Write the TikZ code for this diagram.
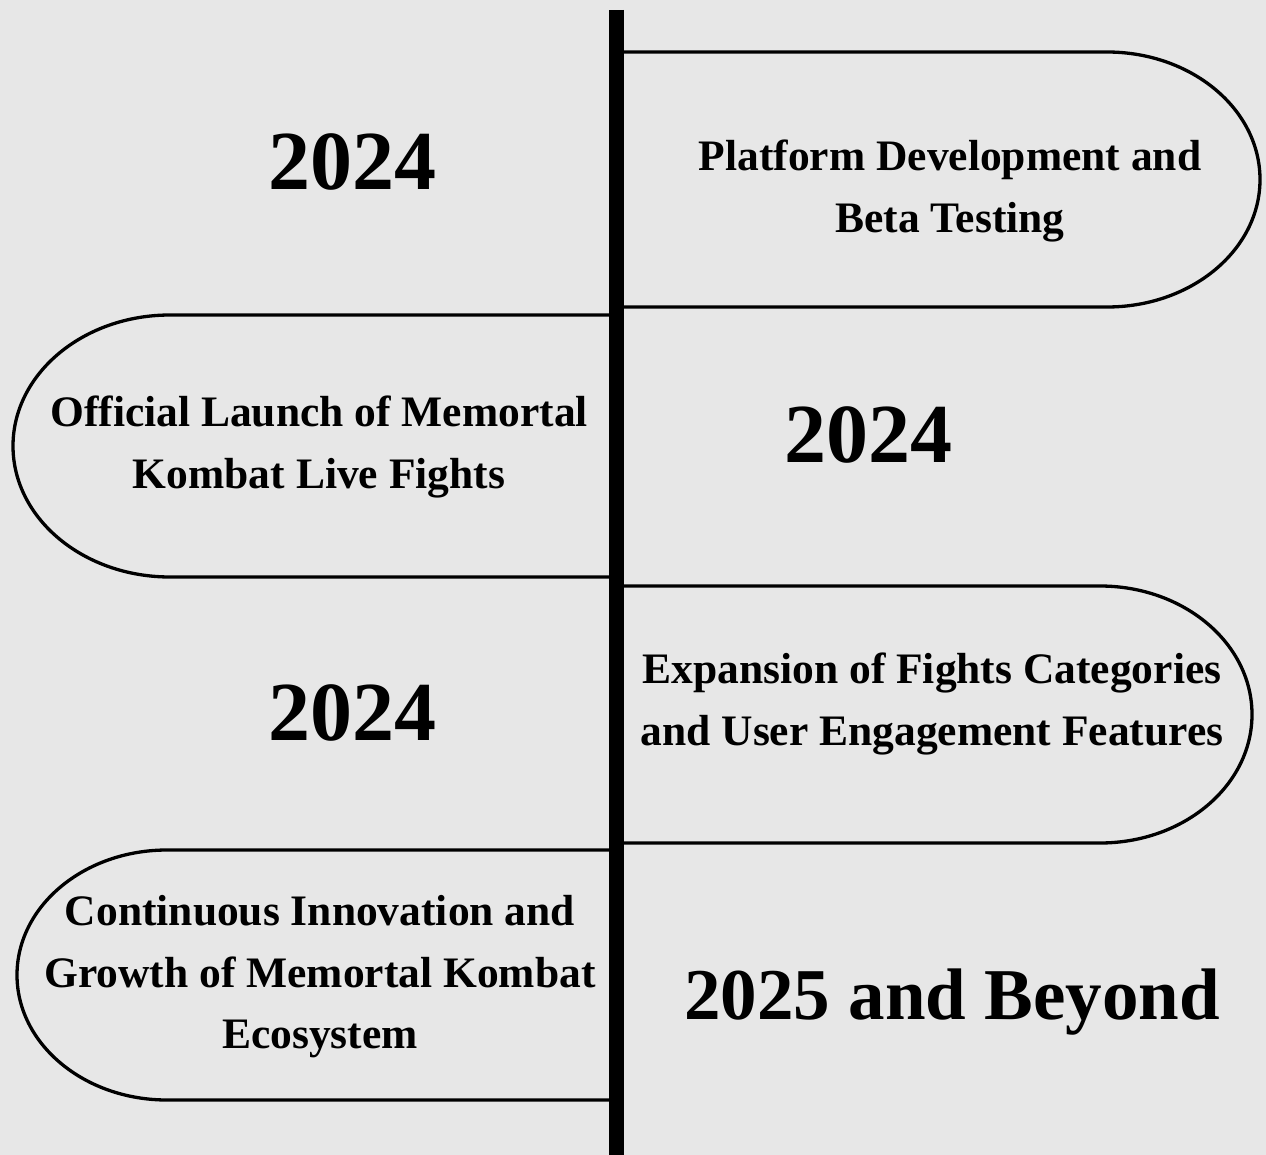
\documentclass[tikz,border=0pt]{standalone}
\usepackage{fontspec}
\setmainfont{Liberation Serif}
\definecolor{bgc}{RGB}{231,231,231}
\begin{document}
\begin{tikzpicture}[x=1pt,y=-1pt,
  tab/.style={draw=black,line width=3.3pt},
  axisline/.style={draw=black,line width=15pt},
  yeartext/.style={font=\fontsize{84}{90}\selectfont\bfseries,inner sep=0pt},
  beyondtext/.style={font=\fontsize{73}{80}\selectfont\bfseries,inner sep=0pt},
  boxtext/.style={font=\fontsize{43.5}{61.5}\selectfont\bfseries,align=center,inner sep=0pt}]
\fill[bgc] (0,0) rectangle (1266,1155);
\useasboundingbox (0,0) rectangle (1266,1155);
% tabs
\draw[tab] (616,52) -- (1107,52) arc[start angle=270,end angle=450,x radius=153,y radius=127.5] -- (616,307);
\draw[tab] (616,315) -- (170,315) arc[start angle=270,end angle=90,x radius=157,y radius=131] -- (616,577);
\draw[tab] (616,586) -- (1100,586) arc[start angle=270,end angle=450,x radius=152,y radius=128.5] -- (616,843);
\draw[tab] (616,850) -- (167,850) arc[start angle=270,end angle=90,x radius=150,y radius=125] -- (616,1100);
% axis
\coordinate (top) at (616,10);
\coordinate (bot) at (616,1155);
\draw[axisline] (top) -- (bot);
% texts
\node[yeartext] (y1) at (352,162) {2024};
\node[boxtext] (t1) at (950,191) {Platform Development and\\Beta Testing};
\node[boxtext] (t2) at (319,447) {Official Launch of Memortal\\Kombat Live Fights};
\node[yeartext] (y2) at (868,435) {2024};
\node[boxtext] (t3) at (932,704) {Expansion of Fights Categories\\and User Engagement Features};
\node[yeartext] (y3) at (352,713) {2024};
\node[boxtext] (t4) at (320,977) {Continuous Innovation and\\Growth of Memortal Kombat\\Ecosystem};
\node[beyondtext] (y4) at (952,1002) {2025 and Beyond};
\end{tikzpicture}
\end{document}
